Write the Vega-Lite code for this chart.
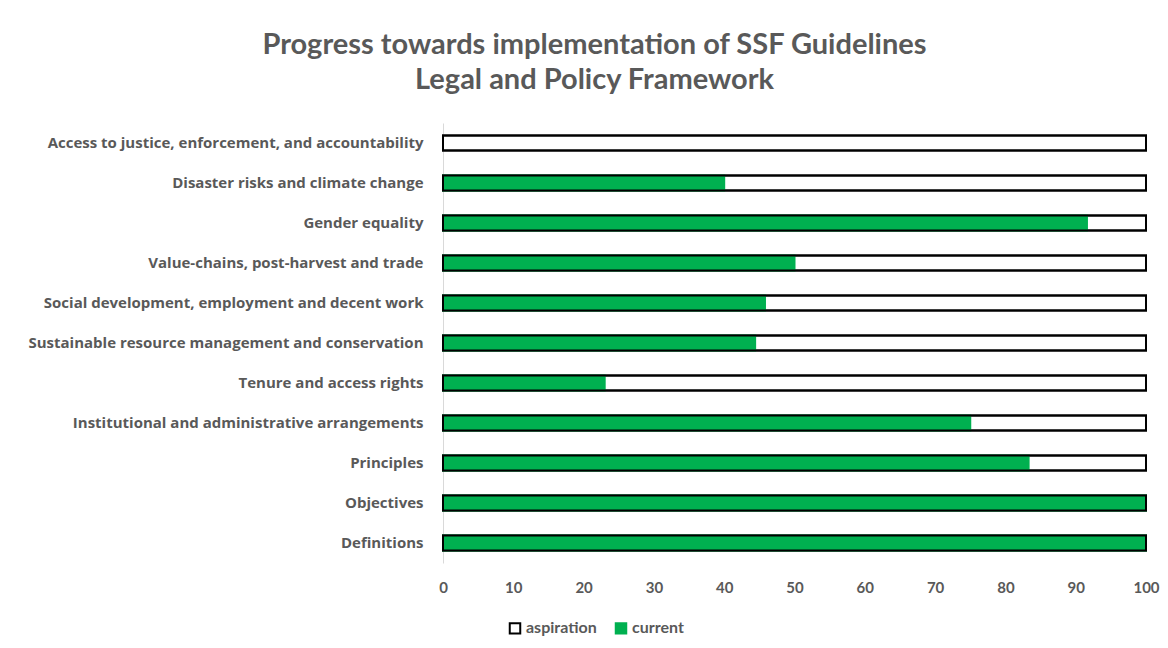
{
  "$schema": "https://vega.github.io/schema/vega-lite/v6.json",
  "autosize": "none",
  "width": 703,
  "height": 440,
  "padding": {"left": 443, "top": 123, "right": 22, "bottom": 85},
  "background": "white",
  "config": {"view": {"stroke": null}, "font": "Lato"},
  "title": {
    "text": ["Progress towards implementation of SSF Guidelines", "Legal and Policy Framework"],
    "font": "Lato",
    "fontSize": 29,
    "fontWeight": "bold",
    "color": "#595959",
    "anchor": "middle",
    "frame": "group",
    "dx": -200,
    "offset": 28,
    "lineHeight": 35
  },
  "data": {
    "values": [
      {"category": "Access to justice, enforcement, and accountability", "series": "aspiration", "value": 100},
      {"category": "Disaster risks and climate change", "series": "aspiration", "value": 100},
      {"category": "Gender equality", "series": "aspiration", "value": 100},
      {"category": "Value-chains, post-harvest and trade", "series": "aspiration", "value": 100},
      {"category": "Social development, employment and decent work", "series": "aspiration", "value": 100},
      {"category": "Sustainable resource management and conservation", "series": "aspiration", "value": 100},
      {"category": "Tenure and access rights", "series": "aspiration", "value": 100},
      {"category": "Institutional and administrative arrangements", "series": "aspiration", "value": 100},
      {"category": "Principles", "series": "aspiration", "value": 100},
      {"category": "Objectives", "series": "aspiration", "value": 100},
      {"category": "Definitions", "series": "aspiration", "value": 100},
      {"category": "Access to justice, enforcement, and accountability", "series": "current", "value": 0},
      {"category": "Disaster risks and climate change", "series": "current", "value": 40},
      {"category": "Gender equality", "series": "current", "value": 91.6},
      {"category": "Value-chains, post-harvest and trade", "series": "current", "value": 50},
      {"category": "Social development, employment and decent work", "series": "current", "value": 45.8},
      {"category": "Sustainable resource management and conservation", "series": "current", "value": 44.4},
      {"category": "Tenure and access rights", "series": "current", "value": 23},
      {"category": "Institutional and administrative arrangements", "series": "current", "value": 75},
      {"category": "Principles", "series": "current", "value": 83.3},
      {"category": "Objectives", "series": "current", "value": 100},
      {"category": "Definitions", "series": "current", "value": 100}
    ]
  },
  "encoding": {
    "y": {
      "field": "category",
      "type": "nominal",
      "sort": null,
      "title": null,
      "scale": {"paddingInner": 0.63, "paddingOuter": 0.315},
      "axis": {
        "domainColor": "#D9D9D9",
        "domainWidth": 1,
        "ticks": false,
        "labelPadding": 20,
        "labelFont": "Open Sans",
        "labelFontSize": 15,
        "labelFontWeight": "bold",
        "labelColor": "#595959",
        "labelLimit": 500,
        "grid": false
      }
    },
    "x": {
      "field": "value",
      "type": "quantitative",
      "stack": null,
      "title": null,
      "scale": {"domain": [0, 100], "nice": false},
      "axis": {
        "values": [0, 10, 20, 30, 40, 50, 60, 70, 80, 90, 100],
        "domain": false,
        "ticks": false,
        "grid": false,
        "labelFlush": false,
        "labelPadding": 17,
        "labelFontSize": 15,
        "labelFontWeight": "bold",
        "labelColor": "#595959"
      }
    }
  },
  "layer": [
    {
      "mark": {"type": "bar", "strokeWidth": 2},
      "encoding": {
        "fill": {
          "field": "series",
          "type": "nominal",
          "scale": {"domain": ["aspiration", "current"], "range": ["#FFFFFF", "#00B050"]},
          "legend": {
            "title": null,
            "orient": "none",
            "direction": "horizontal",
            "legendX": 64,
            "legendY": 497,
            "symbolType": "square",
            "symbolSize": 110,
            "symbolStrokeWidth": 2,
            "labelFontSize": 16,
            "labelColor": "#595959",
            "labelFontWeight": "bold",
            "labelOffset": 3,
            "columnPadding": 14
          }
        },
        "stroke": {
          "field": "series",
          "type": "nominal",
          "scale": {"domain": ["aspiration", "current"], "range": ["#000000", "#00B050"]},
          "legend": {
            "title": null,
            "orient": "none",
            "direction": "horizontal",
            "legendX": 64,
            "legendY": 497
          }
        },
        "order": {"field": "series", "sort": "ascending"}
      }
    },
    {
      "transform": [{"filter": "datum.series === 'aspiration'"}],
      "mark": {"type": "bar", "fillOpacity": 0, "fill": "white", "stroke": "black", "strokeWidth": 2}
    }
  ]
}
